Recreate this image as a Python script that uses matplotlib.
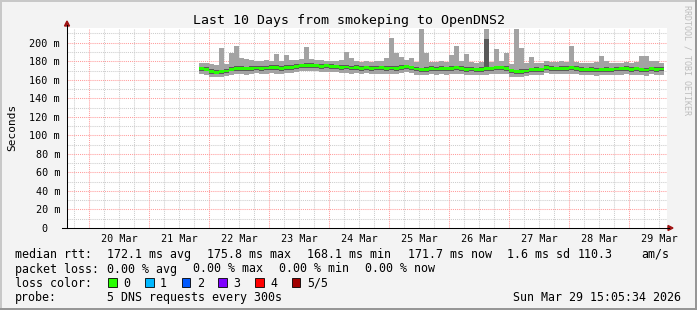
import numpy as np
import pandas as pd
import matplotlib
matplotlib.use('Agg')
import matplotlib.pyplot as plt
from matplotlib.patches import Rectangle, Polygon

W, H = 697, 310
plt.rcParams['font.family'] = 'DejaVu Sans Mono'

t_end = pd.Timestamp('2026-03-29 15:05:34')
t_start = t_end - pd.Timedelta(days=10)
data_start = pd.Timestamp('2026-03-21 20:00')

# 2 hour bins, rtt in ms (p1 = min ... p5 = max, med = median)
med = [172.0, 171.5, 169.0, 168.2, 168.6, 169.5, 171.5, 172.0, 172.3, 171.8,
       172.5, 172.8, 172.2, 172.8, 173.2, 173.0, 172.6, 173.6, 173.4, 174.2,
       175.0, 175.5, 175.8, 175.2, 174.6, 175.0, 174.4, 174.0, 173.2, 173.8,
       172.8, 173.4, 172.6, 173.2, 172.4, 172.8, 173.0, 172.4, 172.8, 172.2,
       173.6, 174.0, 173.2, 171.6, 170.8, 171.2, 172.2, 171.6, 172.4, 171.8,
       172.6, 173.0, 172.2, 171.4, 171.6, 171.0, 171.4, 171.8, 172.0, 173.0,
       173.0, 172.6, 169.8, 168.6, 168.9, 169.6, 170.8, 171.2, 171.0, 173.6,
       172.2, 171.8, 172.6, 172.2, 173.0, 172.4, 171.2, 170.8, 171.4, 170.6,
       171.0, 171.2, 170.8, 171.6, 171.8, 172.2, 171.4, 171.8, 171.0, 170.6,
       172.0, 171.2, 171.7]
p1 = [166.0, 165.5, 163.5, 162.5, 163.0, 164.0, 165.5, 166.0, 166.5, 165.5,
      166.0, 167.0, 166.0, 166.5, 167.0, 166.5, 166.0, 167.0, 167.5, 168.0,
      169.0, 169.0, 169.5, 169.0, 168.5, 168.5, 168.0, 168.0, 167.0, 167.5,
      166.5, 167.0, 166.5, 167.0, 166.0, 166.5, 166.5, 166.0, 166.5, 166.0,
      167.5, 168.0, 167.0, 165.5, 165.0, 165.0, 166.0, 165.5, 166.0, 165.5,
      166.0, 166.5, 166.0, 165.0, 165.5, 165.0, 165.0, 165.5, 166.0, 166.5,
      166.5, 166.0, 163.5, 162.5, 163.0, 164.0, 165.0, 165.0, 165.0, 167.0,
      166.0, 166.0, 166.5, 166.0, 166.5, 166.0, 165.0, 165.0, 165.5, 164.5,
      165.0, 165.0, 165.0, 165.5, 165.5, 166.0, 165.5, 165.5, 165.0, 164.5,
      166.0, 165.0, 165.5]
p2 = [169.5, 169.0, 166.5, 165.8, 166.0, 167.0, 169.0, 169.5, 170.0, 169.2,
      170.0, 170.5, 169.8, 170.2, 170.8, 170.5, 170.0, 171.0, 171.0, 171.8,
      172.5, 173.0, 173.2, 172.8, 172.0, 172.4, 172.0, 171.5, 170.8, 171.2,
      170.2, 170.8, 170.0, 170.6, 169.8, 170.2, 170.4, 169.8, 170.2, 169.6,
      171.0, 171.5, 170.6, 169.0, 168.2, 168.6, 169.6, 169.0, 169.8, 169.2,
      170.0, 170.5, 169.6, 168.8, 169.0, 168.4, 168.8, 169.2, 169.4, 170.4,
      170.4, 170.0, 167.2, 166.0, 166.4, 167.0, 168.2, 168.6, 168.4, 171.0,
      169.6, 169.2, 170.0, 169.6, 170.4, 169.8, 168.6, 168.2, 168.8, 168.0,
      168.4, 168.6, 168.2, 169.0, 169.2, 169.6, 168.8, 169.2, 168.4, 168.0,
      169.4, 168.6, 169.1]
p4 = [174.0, 173.8, 171.5, 170.6, 171.0, 172.0, 174.0, 174.5, 174.5, 174.0,
      174.8, 175.0, 174.5, 175.0, 175.5, 175.5, 174.8, 176.0, 175.6, 176.5,
      177.0, 177.8, 178.0, 177.4, 176.8, 177.2, 176.6, 176.2, 175.5, 176.2,
      175.0, 175.6, 174.8, 175.4, 174.6, 175.0, 175.2, 174.8, 175.2, 174.6,
      175.8, 176.2, 175.4, 173.8, 173.2, 173.4, 174.4, 173.8, 174.6, 174.0,
      174.8, 175.4, 174.4, 173.6, 173.8, 173.2, 173.6, 204.0, 174.2, 175.2,
      175.2, 174.8, 172.0, 170.8, 171.2, 171.8, 173.0, 173.4, 173.2, 175.8,
      174.4, 174.0, 174.8, 174.4, 175.2, 174.6, 173.4, 173.0, 173.6, 172.8,
      173.2, 173.4, 173.0, 173.8, 174.0, 174.4, 173.6, 174.0, 173.2, 172.8,
      174.2, 173.4, 173.9]
p5 = [178, 178, 177, 176, 194, 177, 189, 197, 183, 182,
      181, 180, 180, 181, 180, 188, 180, 187, 181, 181,
      182, 195, 182, 181, 181, 180, 180, 180, 181, 190,
      184, 180, 179, 180, 179, 180, 180, 184, 205, 189,
      185, 181, 183, 179, 215, 189, 179, 179, 180, 179,
      187, 196, 180, 188, 179, 178, 179, 215, 179, 193,
      180, 189, 177, 215, 194, 178, 185, 178, 178, 180,
      179, 179, 180, 179, 197, 179, 178, 178, 178, 179,
      186, 180, 178, 178, 178, 179, 178, 179, 186, 186,
      180, 180, 178]

y_ticks = [0, 20, 40, 60, 80, 100, 120, 140, 160, 180, 200]
y_labels = ['0  ', '20 m', '40 m', '60 m', '80 m', '100 m', '120 m',
            '140 m', '160 m', '180 m', '200 m']
x_labels = ['20 Mar', '21 Mar', '22 Mar', '23 Mar', '24 Mar',
            '25 Mar', '26 Mar', '27 Mar', '28 Mar', '29 Mar']

title = 'Last 10 Days from smokeping to OpenDNS2'
row1 = [(15, 'median rtt:'), (106.7, '172.1 ms avg'), (206.7, '175.8 ms max'),
        (306.7, '168.1 ms min'), (408.3, '171.7 ms now'), (506.7, '1.6 ms sd'),
        (577.3, '110.3'), (641.7, 'am/s')]
row2 = [(15, 'packet loss:'), (106.7, '0.00 % avg'), (193.3, '0.00 % max'),
        (279.3, '0.00 % min'), (365, '0.00 % now')]
loss_labels = ['0', '1', '2', '3', '4', '5/5']
loss_colors = ['#26ff00', '#00b8ff', '#0059ff', '#7e00ff', '#ff0000', '#a10000']
probe = '5 DNS requests every 300s'
stamp = 'Sun Mar 29 15:05:34 2026'

fig = plt.figure(figsize=(W / 100, H / 100), dpi=100)
fig.patch.set_facecolor('#f3f3f3')

ax = fig.add_axes([67 / W, (H - 228) / H, 600 / W, 200 / H])
ax.set_facecolor('white')
ax.set_xlim(t_start, t_end)
ax.set_ylim(0, 215.9)
for s in ax.spines.values():
    s.set_visible(False)

# grid
dot = (0, (1, 1))
for t in pd.date_range('2026-03-19 18:00', '2026-03-29 12:00', freq='6h'):
    if t.hour == 0:
        ax.axvline(t, color='#ff9c9c', lw=0.75, ls=dot, zorder=1)
    else:
        ax.axvline(t, color='#cdcdcd', lw=0.75, ls=dot, zorder=0.5)
for v in range(10, 216, 10):
    if v % 20 == 0:
        ax.axhline(v, color='#ff9c9c', lw=0.75, ls=dot, zorder=1)
    else:
        ax.axhline(v, color='#cdcdcd', lw=0.75, ls=dot, zorder=0.5)

# smoke + median
x = pd.date_range(data_start, periods=len(med) + 1, freq='2h').to_numpy()
def ext(v):
    return np.append(v, v[-1])
ax.fill_between(x, ext(p1), ext(p5), step='post', color='#a3a3a3', lw=0, zorder=2)
ax.fill_between(x, ext(p2), ext(p4), step='post', color='#5a5a5a', lw=0, zorder=3)
ax.fill_between(x, ext(med) - 1.5, ext(med) + 1.5, step='post',
                color=loss_colors[0], lw=0, zorder=4)

noon = pd.date_range('2026-03-20 12:00', periods=len(x_labels), freq='D')
ax.set_xticks(noon, x_labels)
ax.set_yticks(y_ticks, y_labels)
ax.tick_params(axis='x', length=0, pad=4, labelsize=7.3)
ax.tick_params(axis='y', length=0, pad=5, labelsize=7.3)

# overlay in pixel coords for frame, axes arrows and legend
ov = fig.add_axes([0, 0, 1, 1], zorder=5)
ov.set_xlim(0, W)
ov.set_ylim(H, 0)
ov.axis('off')

ov.plot([0, W], [1, 1], color='#c8c8c8', lw=1.44)
ov.plot([1, 1], [0, H], color='#c8c8c8', lw=1.44)
ov.plot([0, W], [H - 1, H - 1], color='#969696', lw=1.44)
ov.plot([W - 1, W - 1], [0, H], color='#969696', lw=1.44)

ov.plot([67, 67], [228, 25], color='black', lw=0.75)
ov.plot([62, 669], [228, 228], color='black', lw=0.75)
ov.add_patch(Polygon([(64.5, 26), (69.5, 26), (67, 21)], color='#a01414'))
ov.add_patch(Polygon([(668, 225.5), (668, 230.5), (673, 228)], color='#a01414'))

ov.text(349, 24, title, ha='center', va='baseline', fontsize=9.5)
ov.text(12, 127, 'Seconds', rotation=90, ha='center', va='center', fontsize=8)
ov.text(687, 5, 'RRDTOOL / TOBI OETIKER', rotation=270, ha='center', va='top',
        fontsize=6, color='#bdbdbd')

for px, s in row1:
    ov.text(px, 257.8, s, va='baseline', fontsize=8.4)
for px, s in row2:
    ov.text(px, 272.5, s, va='baseline', fontsize=8.4)
ov.text(15, 286.6, 'loss color:', va='baseline', fontsize=8.4)
for i, (lab, c) in enumerate(zip(loss_labels, loss_colors)):
    bx = 108.3 + 36.7 * i
    ov.add_patch(Rectangle((bx, 278), 8.5, 8.5, facecolor=c, edgecolor='black', lw=0.6))
    ov.text(bx + 15, 286.6, lab, va='baseline', fontsize=8.4)
ov.text(15, 300.8, 'probe:', va='baseline', fontsize=8.4)
ov.text(106.7, 300.8, probe, va='baseline', fontsize=8.4)
ov.text(681, 300.8, stamp, ha='right', va='baseline', fontsize=8.4)

fig.savefig('out.png', dpi=100, facecolor=fig.get_facecolor())
